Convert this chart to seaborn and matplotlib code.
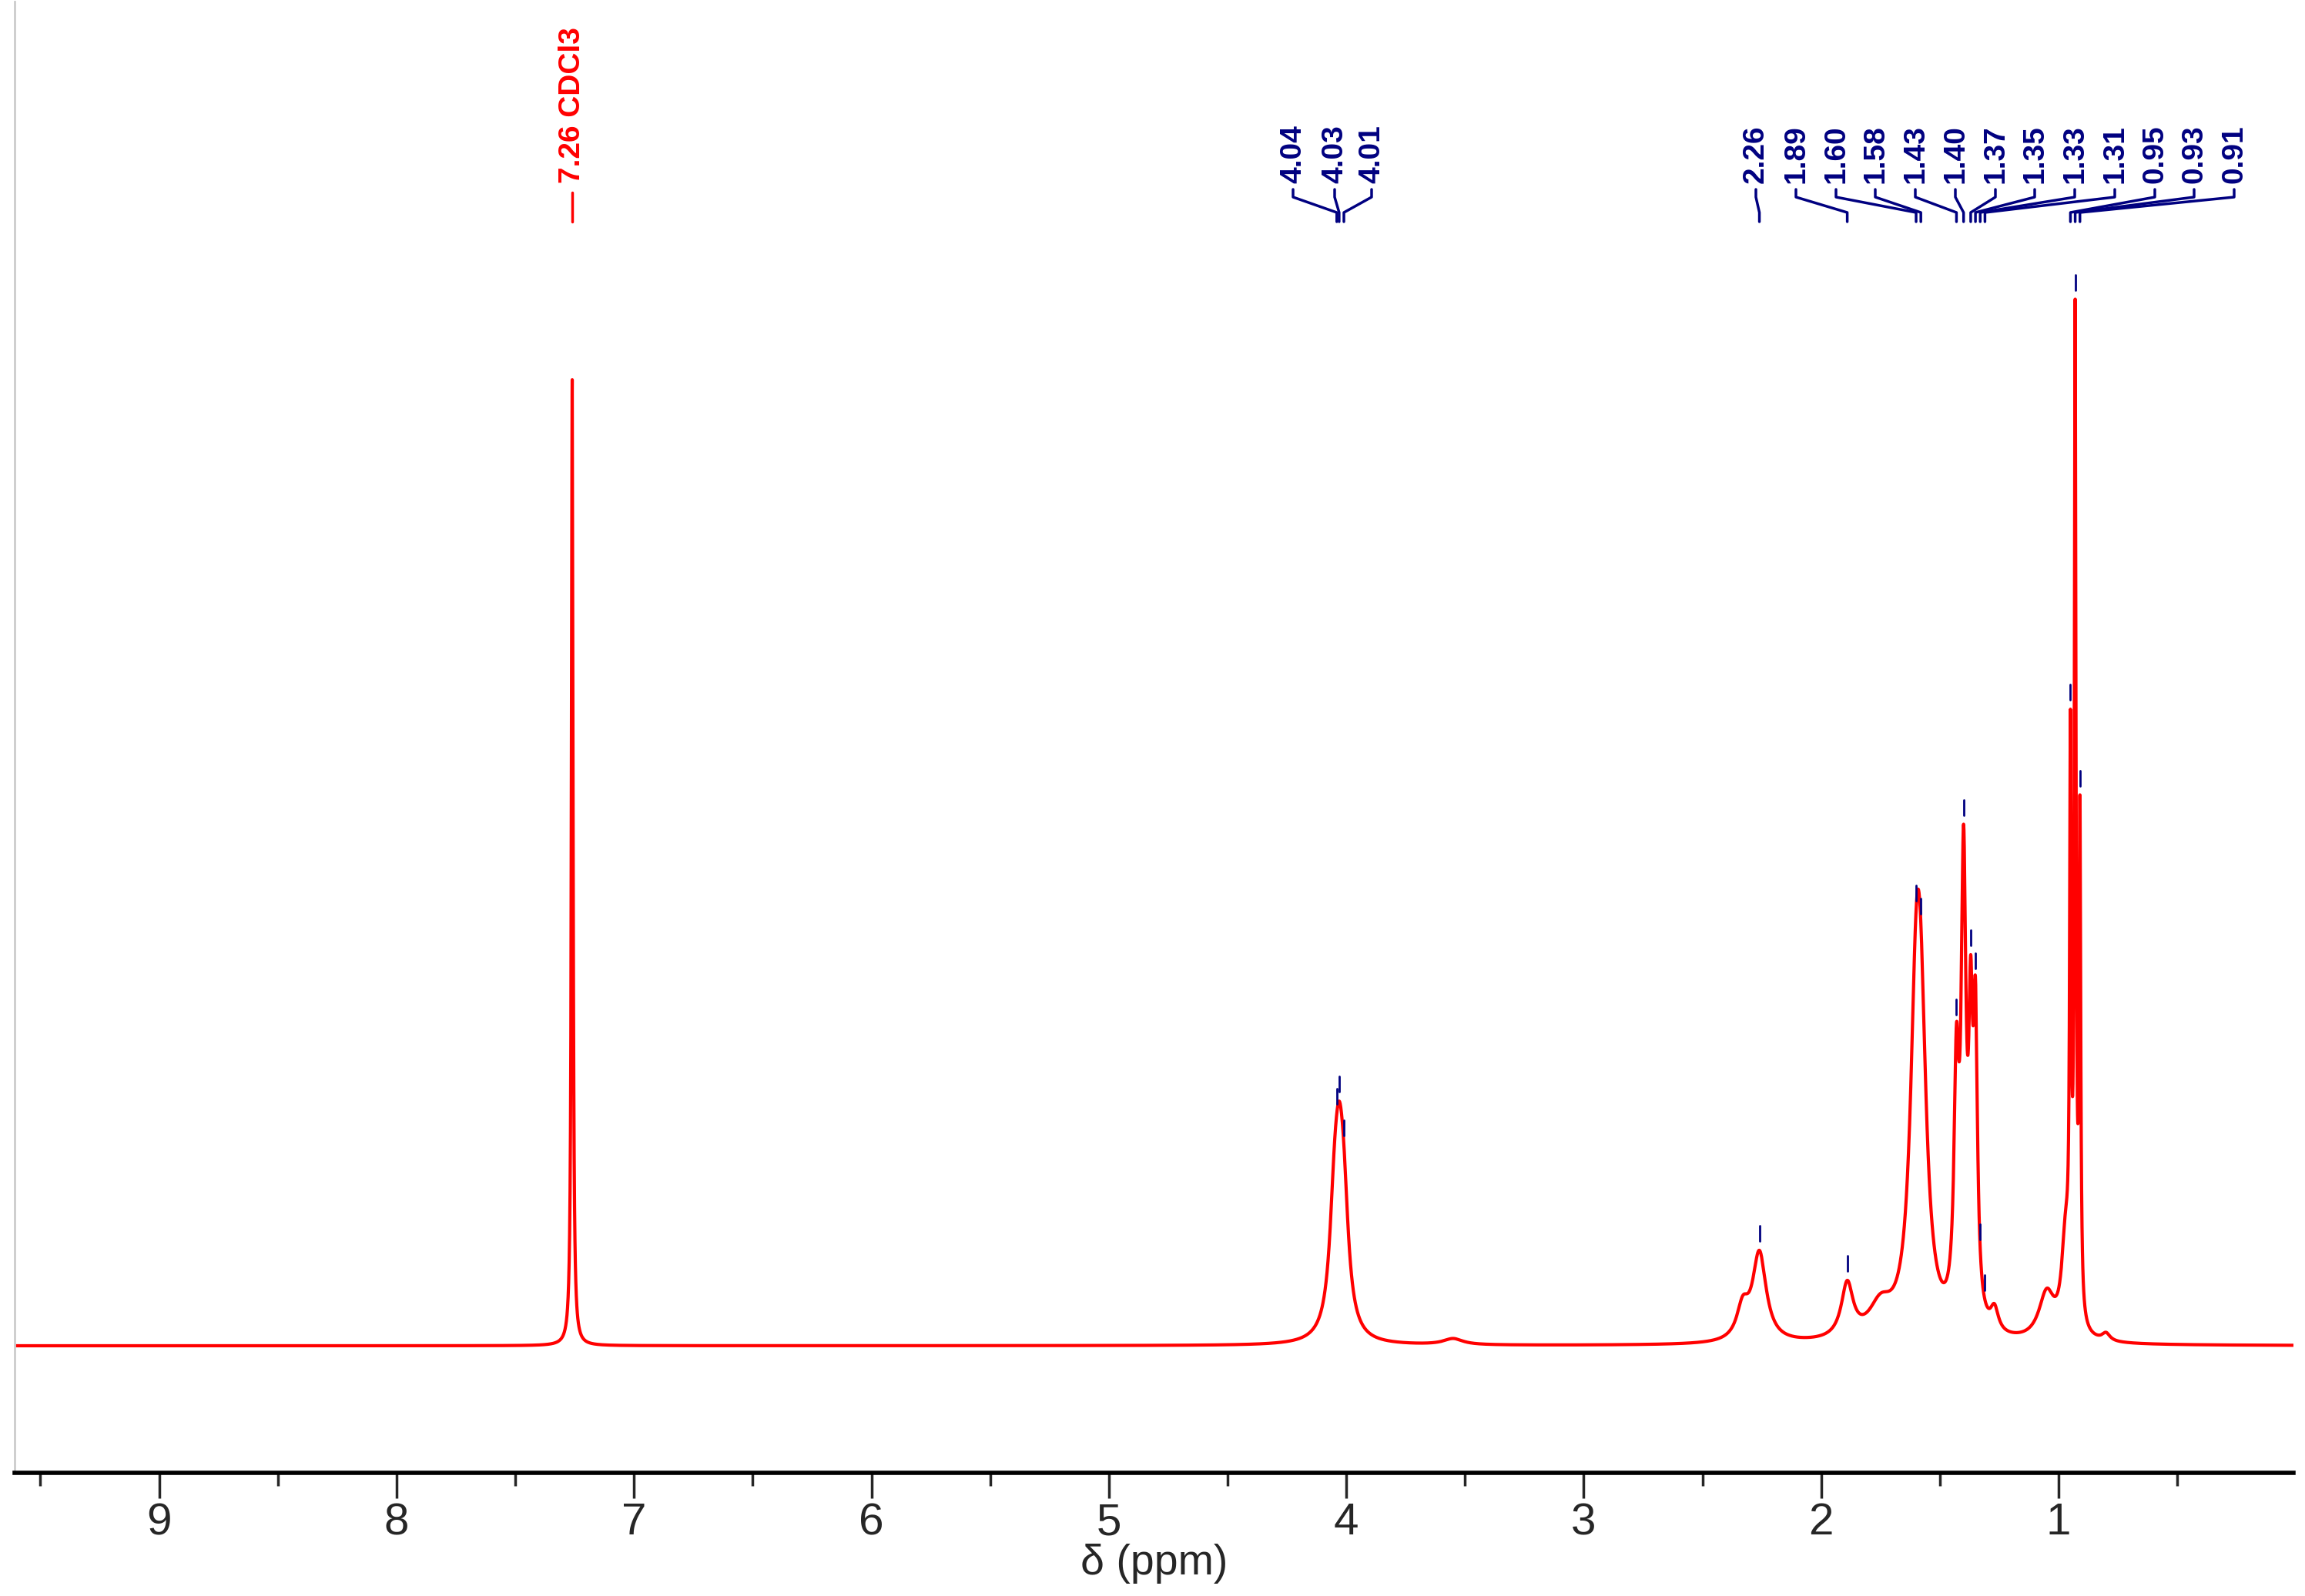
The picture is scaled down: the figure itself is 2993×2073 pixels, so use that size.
import numpy as np
import matplotlib
matplotlib.use("Agg")
import matplotlib.pyplot as plt
import seaborn as sns

sns.set_theme(style="white")
plt.rcParams['font.family'] = ['Liberation Sans', 'DejaVu Sans']

# Peak list (ppm, height in px above baseline, half width ppm)
peak_ppm    = [7.26, 4.05, 4.03, 4.01, 3.55, 2.33, 2.26, 1.89, 1.75, 1.60, 1.58, 1.43, 1.40, 1.37, 1.35, 1.27, 1.05, 0.97, 0.95, 0.93, 0.91, 0.80]
peak_height = [1255, 125, 165, 125, 8, 40, 115, 70, 40, 350, 295, 300, 570, 330, 360, 30, 60, 120, 700, 1275, 640, 10]
peak_width  = [0.004, 0.025, 0.025, 0.025, 0.05, 0.03, 0.035, 0.03, 0.06, 0.03, 0.03, 0.012, 0.012, 0.01, 0.01, 0.02, 0.04, 0.02, 0.004, 0.004, 0.004, 0.02]

label_vals = ["4.04", "4.03", "4.01", "2.26", "1.89", "1.60", "1.58", "1.43", "1.40",
              "1.37", "1.35", "1.33", "1.31", "0.95", "0.93", "0.91"]
label_peak = [4.04, 4.03, 4.01, 2.26, 1.89, 1.60, 1.58, 1.43, 1.40, 1.37, 1.35, 1.33, 1.31, 0.95, 0.93, 0.91]
label_px = [1679, 1733, 1781, 2280, 2332, 2384, 2435, 2487, 2539, 2591, 2642, 2694, 2746, 2798, 2849, 2901]

def px2ppm(px):
    return 1 - (px - 2673) / 308.3

x = np.linspace(0, 9.61, 40000)
y = np.zeros_like(x)
for p, h, w in zip(peak_ppm, peak_height, peak_width):
    y += h / (1 + ((x - p) / w) ** 2)

fig = plt.figure(figsize=(29.93, 20.73), dpi=100)
ax = fig.add_axes([19/2993, 1 - 1913/2073, (2978-19)/2993, (1913-2)/2073])
sns.lineplot(x=x, y=y, ax=ax, color='red', linewidth=3, estimator=None, sort=False)
ax.set_xlim(px2ppm(19), px2ppm(2978))
ax.set_ylim(-165, 1746)

navy = '#000080'
def curve(v):
    return np.interp(v, x, y)

# CDCl3 label
ax.plot([7.26, 7.26], [1748-288, 1748-250], color='red', lw=2.5)
ax.text(7.26, 1748-238, "7.26 CDCl3", rotation=90, ha='center', va='bottom',
        color='red', fontsize=28, fontweight='bold')

for lab, pk, px in zip(label_vals, label_peak, label_px):
    lx = px2ppm(px)
    ax.plot([lx, lx, pk, pk], [1748-246, 1748-256, 1748-276, 1748-288], color=navy, lw=2.5)
    ax.text(lx, 1748-238, lab, rotation=90, ha='center', va='bottom',
            color=navy, fontsize=28, fontweight='bold')
    top = curve(pk)
    ax.plot([pk, pk], [top + 12, top + 32], color=navy, lw=2)

ax.set_xticks(np.arange(1, 10, 1))
ax.set_xticks(np.arange(0.5, 9.6, 0.5), minor=True)
ax.set_yticks([])
ax.tick_params(axis='x', which='major', direction='out', length=24, width=2.5, labelsize=42, bottom=True)
ax.tick_params(axis='x', which='minor', direction='out', length=12, width=2.5, bottom=True)
ax.set_xlabel("δ (ppm)", fontsize=40, labelpad=0)
for s in ['top', 'right']:
    ax.spines[s].set_visible(False)
ax.spines['left'].set_color('#cccccc')
ax.spines['left'].set_linewidth(2)
ax.spines['bottom'].set_color('black')
ax.spines['bottom'].set_linewidth(4)
fig.savefig("out.png", dpi=100, facecolor='white')
